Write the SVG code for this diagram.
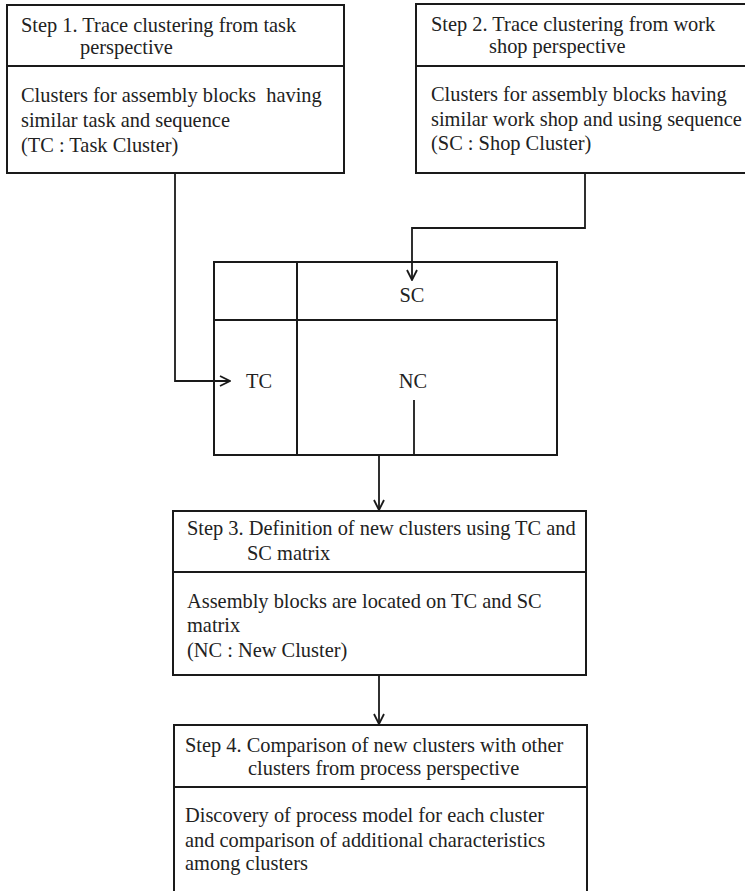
<svg xmlns="http://www.w3.org/2000/svg" width="745" height="891" viewBox="0 0 745 891">
  <style>
    .box { fill: #fff; stroke: #1a1a1a; stroke-width: 2; }
    .div { stroke: #1a1a1a; stroke-width: 2; fill: none; }
    .t { font-family: "Liberation Serif", "Times New Roman", serif; font-size: 20.4px; fill: #222; white-space: pre; }
    .m { font-family: "Liberation Serif", "Times New Roman", serif; font-size: 20.4px; fill: #222; text-anchor: middle; }
    .wire { stroke: #1a1a1a; stroke-width: 1.8; fill: none; }
  </style>
  <defs>
    <marker id="open" viewBox="0 0 12 12" refX="11" refY="6" markerWidth="12" markerHeight="12" markerUnits="userSpaceOnUse" orient="auto">
      <path d="M1,1 L11,6 L1,11" fill="none" stroke="#1a1a1a" stroke-width="1.8"/>
    </marker>
  </defs>
  <rect width="745" height="891" fill="#fff"/>

  <g id="step1">
    <rect class="box" x="7" y="5" width="337" height="168"/>
    <line class="div" x1="7" y1="66" x2="344" y2="66"/>
    <text class="t" x="21" y="32">Step 1. Trace clustering from task</text>
    <text class="t" x="80" y="54">perspective</text>
    <text class="t" x="21" y="102" xml:space="preserve">Clusters for assembly blocks  having</text>
    <text class="t" x="21" y="127">similar task and sequence</text>
    <text class="t" x="21" y="152">(TC : Task Cluster)</text>
  </g>

  <g id="step2">
    <!-- right edge runs past the frame -->
    <rect class="box" x="416" y="4" width="340" height="169"/>
    <line class="div" x1="416" y1="66" x2="756" y2="66"/>
    <text class="t" x="431" y="31">Step 2. Trace clustering from work</text>
    <text class="t" x="489" y="53">shop perspective</text>
    <text class="t" x="431" y="101">Clusters for assembly blocks having</text>
    <text class="t" x="431" y="126">similar work shop and using sequence</text>
    <text class="t" x="431" y="150">(SC : Shop Cluster)</text>
  </g>

  <g id="matrix">
    <rect class="box" x="214" y="262" width="343" height="193"/>
    <line class="div" x1="297" y1="262" x2="297" y2="455"/>
    <line class="div" x1="214" y1="320" x2="557" y2="320"/>
    <text class="m" x="412" y="302">SC</text>
    <text class="m" x="259" y="388">TC</text>
    <text class="m" x="413" y="388">NC</text>
  </g>

  <g id="step3">
    <rect class="box" x="173" y="511" width="413" height="164"/>
    <line class="div" x1="173" y1="572" x2="586" y2="572"/>
    <text class="t" x="187" y="535">Step 3. Definition of new clusters using TC and</text>
    <text class="t" x="247" y="560">SC matrix</text>
    <text class="t" x="187" y="608">Assembly blocks are located on TC and SC</text>
    <text class="t" x="187" y="632">matrix</text>
    <text class="t" x="187" y="657">(NC : New Cluster)</text>
  </g>

  <g id="step4">
    <rect class="box" x="174" y="725" width="413" height="180"/>
    <line class="div" x1="174" y1="787" x2="587" y2="787"/>
    <text class="t" x="185" y="752">Step 4. Comparison of new clusters with other</text>
    <text class="t" x="248" y="775">clusters from process perspective</text>
    <text class="t" x="185" y="822">Discovery of process model for each cluster</text>
    <text class="t" x="185" y="847">and comparison of additional characteristics</text>
    <text class="t" x="185" y="870">among clusters</text>
  </g>

  <g id="connectors">
    <polyline class="wire" points="175,173 175,381 230,381" marker-end="url(#open)"/>
    <polyline class="wire" points="585,173 585,228 412,228 412,280" marker-end="url(#open)"/>
    <polyline class="wire" points="414,400 414,455 379,455 379,510" marker-end="url(#open)"/>
    <polyline class="wire" points="379,675 379,724" marker-end="url(#open)"/>
  </g>
</svg>
